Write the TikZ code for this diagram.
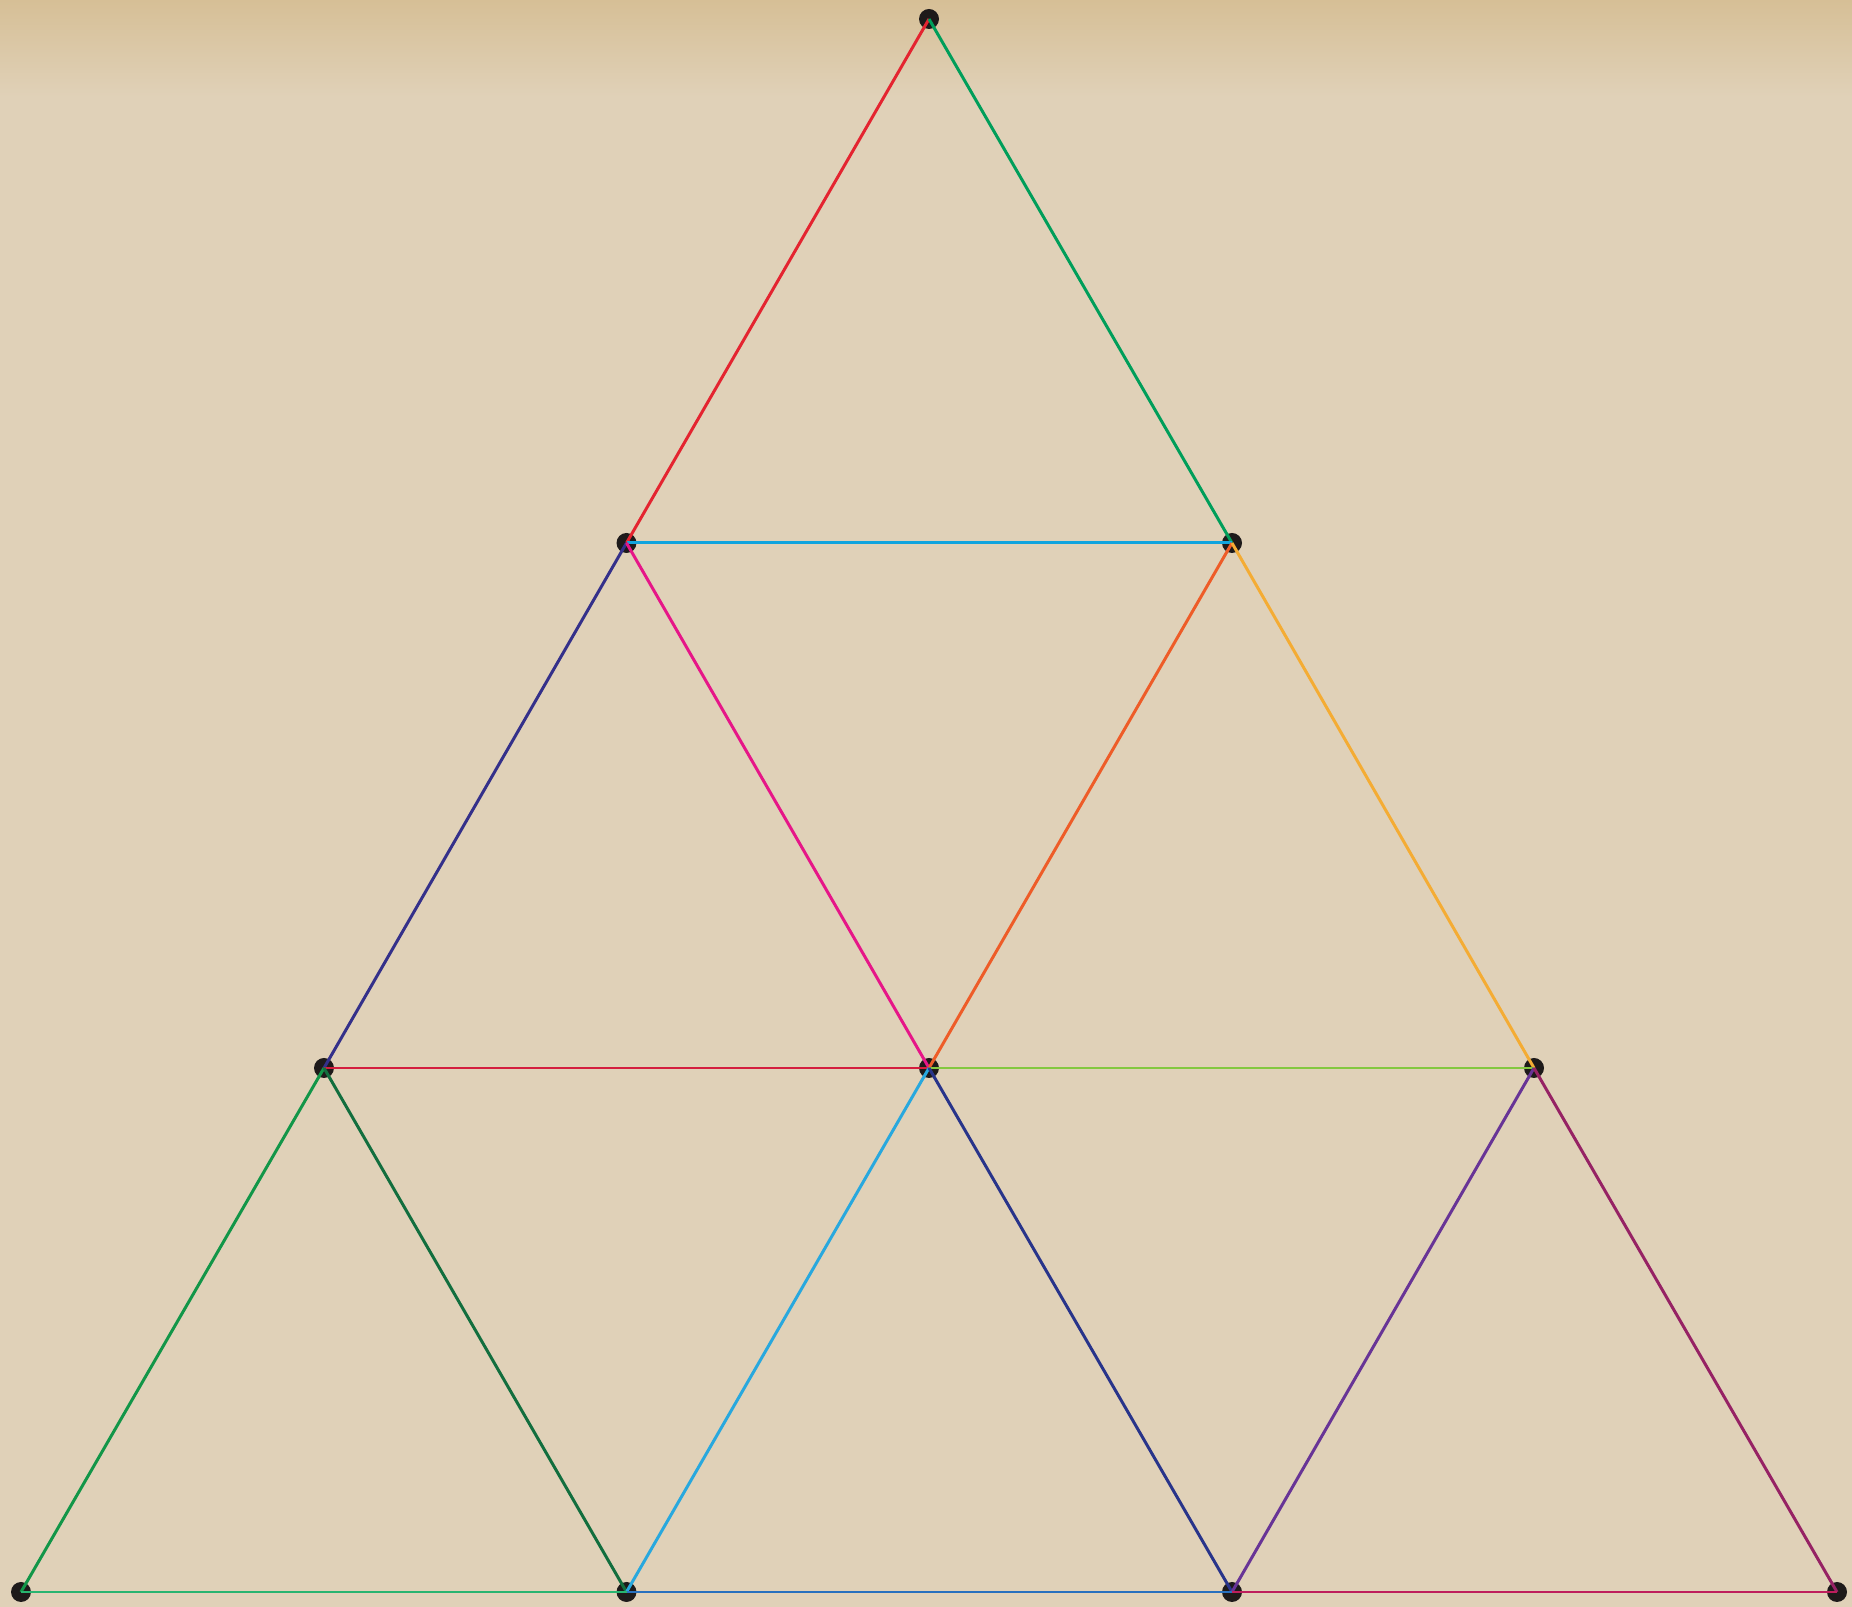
\documentclass[tikz,border=0pt]{standalone}
\usepackage{tikz}
\usetikzlibrary{calc}
\definecolor{paper}{RGB}{224,209,184}
\definecolor{paperdk}{RGB}{214,191,150}
\definecolor{dotc}{RGB}{30,26,26}
\definecolor{e1}{RGB}{228,36,48}
\definecolor{e2}{RGB}{0,158,90}
\definecolor{e3}{RGB}{16,164,222}
\definecolor{e4}{RGB}{52,48,138}
\definecolor{e5}{RGB}{230,22,136}
\definecolor{e6}{RGB}{238,92,40}
\definecolor{e7}{RGB}{244,172,52}
\definecolor{e8}{RGB}{212,30,62}
\definecolor{e9}{RGB}{132,200,64}
\definecolor{e10}{RGB}{18,150,72}
\definecolor{e11}{RGB}{18,110,62}
\definecolor{e12}{RGB}{40,168,222}
\definecolor{e13}{RGB}{40,52,138}
\definecolor{e14}{RGB}{104,52,150}
\definecolor{e15}{RGB}{150,34,100}
\definecolor{e16}{RGB}{40,180,112}
\definecolor{e17}{RGB}{40,112,190}
\definecolor{e18}{RGB}{190,30,92}

\begin{document}
\begin{tikzpicture}[line width=0.85pt,
    dot/.style={fill=dotc}]
  % paper
  \fill[paper] (0,0) rectangle (18.52,16.07);
  \shade[top color=paperdk, bottom color=paper] (0,15.1) rectangle (18.52,16.07);
  \useasboundingbox (0,0) rectangle (18.52,16.07);
  % grid points
  \coordinate (t)  at (9.29,15.88);
  \coordinate (a1) at (6.265,10.64);
  \coordinate (a2) at (12.32,10.64);
  \coordinate (b1) at (3.24,5.39);
  \coordinate (b2) at (9.29,5.39);
  \coordinate (b3) at (15.34,5.39);
  \coordinate (c1) at (0.21,0.15);
  \coordinate (c2) at (6.265,0.15);
  \coordinate (c3) at (12.32,0.15);
  \coordinate (c4) at (18.37,0.15);
  \foreach \p in {t,a1,a2,b1,b2,b3,c1,c2,c3,c4}
    \fill[dot] (\p) circle (0.1);
  % edges
  \draw[e1] (t)--(a1);  \draw[e2] (t)--(a2);  \draw[e3] (a1)--(a2);
  \draw[e4] (a1)--(b1); \draw[e5] (a1)--(b2);
  \draw[e6] (a2)--(b2); \draw[e7] (a2)--(b3);
  \draw[e8] (b1)--(b2); \draw[e9] (b2)--(b3);
  \draw[e10] (b1)--(c1); \draw[e11] (b1)--(c2);
  \draw[e12] (b2)--(c2); \draw[e13] (b2)--(c3);
  \draw[e14] (b3)--(c3); \draw[e15] (b3)--(c4);
  \draw[e16] (c1)--(c2); \draw[e17] (c2)--(c3); \draw[e18] (c3)--(c4);
\end{tikzpicture}
\end{document}
